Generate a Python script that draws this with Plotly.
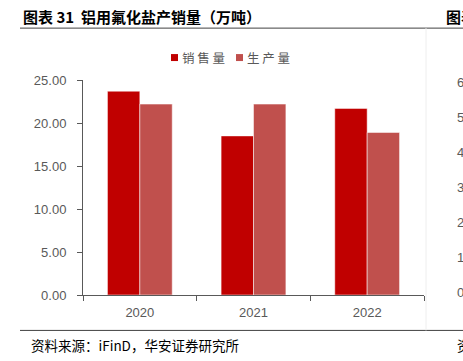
import plotly.graph_objects as go

categories = ["2020", "2021", "2022"]
sales = [23.7, 18.5, 21.7]
production = [22.2, 22.2, 18.9]
series_names = ["销 售 量", "生 产 量"]
series_colors = ["#C00000", "#C0504D"]
y_ticks = [0, 5, 10, 15, 20, 25]
right_ticks = ["6", "5", "4", "3", "2", "1", "0"]

W, H = 463, 361
L, R, T, B = 83, 424, 80, 295.5


def ax(xp):
    return (xp - L) / (R - L)


def ay(yp):
    return (B - yp) / (B - T)


fig = go.Figure()
for name, vals, col in zip(series_names, [sales, production], series_colors):
    fig.add_trace(go.Bar(x=categories, y=vals, name=name, showlegend=False,
                         marker=dict(color=col, line=dict(color="rgba(255,255,255,0.5)", width=1))))

fig.update_layout(
    width=W, height=H,
    margin=dict(l=L, r=W - R, t=T, b=H - B, autoexpand=False),
    paper_bgcolor="white", plot_bgcolor="white",
    barmode="group", bargap=0.43, bargroupgap=0,
    font=dict(family="Liberation Sans, Arial, sans-serif", size=13, color="#595959"),
    showlegend=False,
    xaxis=dict(showline=True, linecolor="#595959", linewidth=1, ticks="outside",
               tickson="boundaries", ticklen=5, tickcolor="#595959", ticklabelstandoff=5,
               tickfont=dict(size=13, color="#595959"), showgrid=False),
    yaxis=dict(range=[0, 25], tickvals=y_ticks, tickformat=".2f", showline=True,
               linecolor="#595959", linewidth=1, ticks="outside", ticklen=5,
               tickcolor="#595959", showgrid=False, zeroline=False, ticklabelstandoff=8,
               tickfont=dict(size=13, color="#595959")),
)

shapes = [
    dict(type="line", x0=ax(20), x1=ax(463), y0=ay(28), y1=ay(28), line=dict(color="#404040", width=1)),
    dict(type="line", x0=ax(20), x1=ax(463), y0=ay(331), y1=ay(331), line=dict(color="#404040", width=1)),
    dict(type="line", x0=ax(426), x1=ax(426), y0=ay(28), y1=ay(331), line=dict(color="#EEEEEE", width=1)),
]
# legend swatches
legend_x = [171, 236]
for lx, col in zip(legend_x, series_colors):
    shapes.append(dict(type="rect", x0=ax(lx), x1=ax(lx + 7), y0=ay(61), y1=ay(54),
                       fillcolor=col, line=dict(width=0)))
for s in shapes:
    s.update(xref="paper", yref="paper")
fig.update_layout(shapes=shapes)

annotations = [
    dict(text="<b>图表 31  铝用氟化盐产销量（万吨）</b>", x=ax(21), y=ay(16), xanchor="left", yanchor="middle",
         font=dict(family="Noto Sans CJK SC", size=15, color="#000000")),
    dict(text="<b>图表</b>", x=ax(444), y=ay(16), xanchor="left", yanchor="middle",
         font=dict(family="Noto Sans CJK SC", size=15, color="#000000")),
    dict(text="资料来源：iFinD，华安证券研究所", x=ax(29), y=ay(346), xanchor="left", yanchor="middle",
         font=dict(family="Noto Sans CJK SC", size=13.5, color="#000000")),
    dict(text="资", x=ax(455), y=ay(346), xanchor="left", yanchor="middle",
         font=dict(family="Noto Sans CJK SC", size=13.5, color="#000000")),
]
for lx, name in zip(legend_x, series_names):
    annotations.append(dict(text=name, x=ax(lx + 9), y=ay(57), xanchor="left", yanchor="middle",
                            font=dict(family="Noto Sans CJK SC", size=12.5, color="#595959")))
for i, t in enumerate(right_ticks):
    annotations.append(dict(text=t, x=ax(455), y=ay(83 + i * 35), xanchor="left", yanchor="middle",
                            font=dict(family="Liberation Sans", size=13, color="#595959")))
for a in annotations:
    a.update(xref="paper", yref="paper", showarrow=False)
fig.update_layout(annotations=annotations)

fig.write_html("out.html", config={"displayModeBar": False},
               post_script="document.body.style.margin='0';document.body.style.overflow='hidden';")
